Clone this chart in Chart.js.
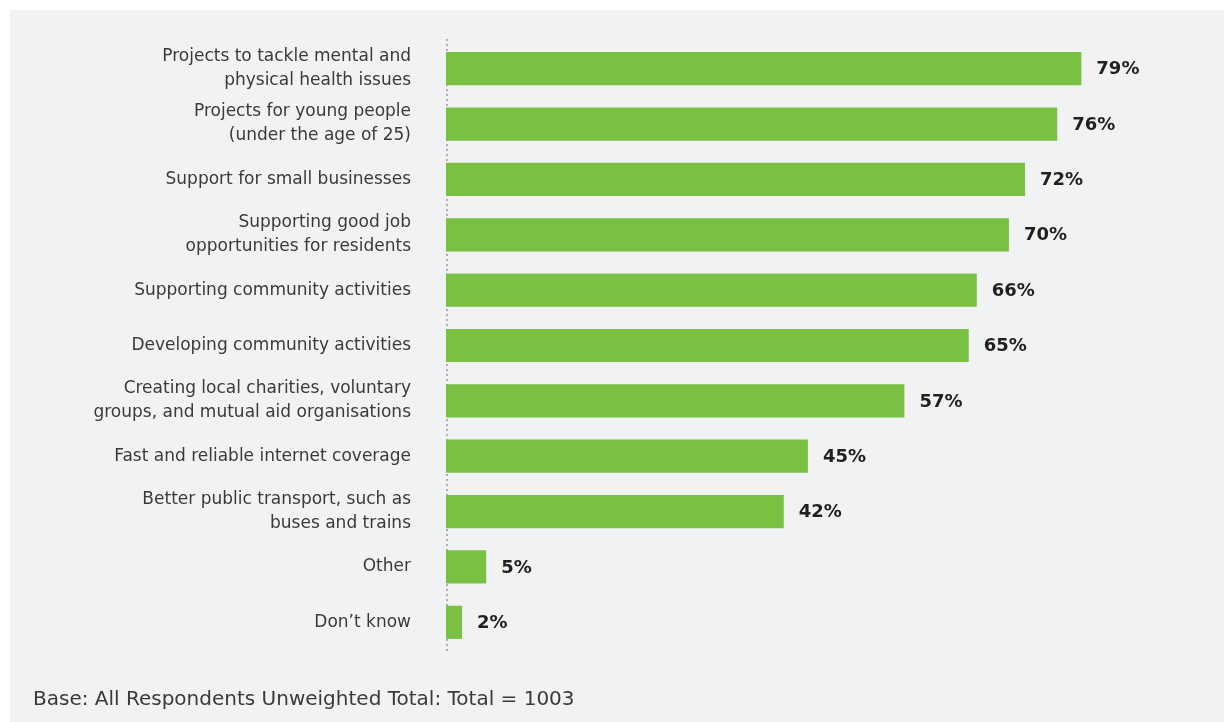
<!DOCTYPE html>
<html>
<head>
<meta charset="utf-8">
<script src="https://cdn.jsdelivr.net/npm/chart.js@4"></script>
<style>
  html, body { margin: 0; padding: 0; background: #fff; }
  body { width: 1224px; height: 722px; position: relative; overflow: hidden; }
  #panel { position: absolute; left: 10px; top: 10px; right: 0; bottom: 0; background: #f1f2f4; }
  #wrap { position: absolute; left: 0; top: 0; width: 1224px; height: 722px; }
  #base { position: absolute; left: 33px; top: 686px; font: 20px "DejaVu Sans", sans-serif; color: #3a3a3a; }
</style>
</head>
<body>
<div id="panel"></div>
<div id="wrap"><canvas id="chart1"></canvas></div>
<div id="base">Base: All Respondents Unweighted Total: Total = 1003</div>
<script>
var categories = [
    ['Projects to tackle mental and', 'physical health issues'],
    ['Projects for young people', '(under the age of 25)'],
    'Support for small businesses',
    ['Supporting good job', 'opportunities for residents'],
    'Supporting community activities',
    'Developing community activities',
    ['Creating local charities, voluntary', 'groups, and mutual aid organisations'],
    'Fast and reliable internet coverage',
    ['Better public transport, such as', 'buses and trains'],
    'Other',
    'Don\u2019t know'
];
var shares = [79, 76, 72, 70, 66, 65, 57, 45, 42, 5, 2];

// dotted axis line down the left of the bars
var dottedAxis = {
    id: 'dottedAxis',
    beforeDatasetsDraw: function(chart) {
        var a = chart.chartArea;
        var ctx = chart.ctx;
        ctx.save();
        ctx.strokeStyle = '#adafb2';
        ctx.lineWidth = 2;
        ctx.setLineDash([2, 3]);
        ctx.beginPath();
        ctx.moveTo(a.left + 1, a.top - 2);
        ctx.lineTo(a.left + 1, a.bottom + 1);
        ctx.stroke();
        ctx.restore();
    }
};

// write the % value just past the end of each bar
var valueLabels = {
    id: 'valueLabels',
    afterDatasetsDraw: function(chart) {
        var ctx = chart.ctx;
        var meta = chart.getDatasetMeta(0);
        ctx.save();
        ctx.font = 'bold 18px "DejaVu Sans", sans-serif';
        ctx.fillStyle = '#231f20';
        ctx.textBaseline = 'middle';
        meta.data.forEach(function(bar, i) {
            ctx.fillText(shares[i] + '%', bar.x + 15, bar.y + 1);
        });
        ctx.restore();
    }
};

var ctx1 = document.getElementById('chart1').getContext('2d');
var chart1 = new Chart(ctx1, {
    type: 'bar',
    data: {
        labels: categories,
        datasets: [{
            data: shares,
            backgroundColor: '#7ac143',
            barPercentage: 0.6,
            categoryPercentage: 1
        }]
    },
    options: {
        indexAxis: 'y',
        responsive: true,
        maintainAspectRatio: false,
        animation: false,
        layout: {
            padding: { top: 41, bottom: 72, left: 0, right: 14 }
        },
        plugins: {
            legend: { display: false },
            tooltip: { enabled: false }
        },
        scales: {
            x: {
                min: 0,
                max: 95,
                display: false
            },
            y: {
                afterFit: function(scale) { scale.width = 446; },
                grid: { display: false },
                border: { display: false },
                ticks: {
                    color: '#3a3a3a',
                    padding: 27,
                    font: { family: 'DejaVu Sans', size: 17, lineHeight: 1.41 }
                }
            }
        }
    },
    plugins: [dottedAxis, valueLabels]
});
</script>
</body>
</html>
